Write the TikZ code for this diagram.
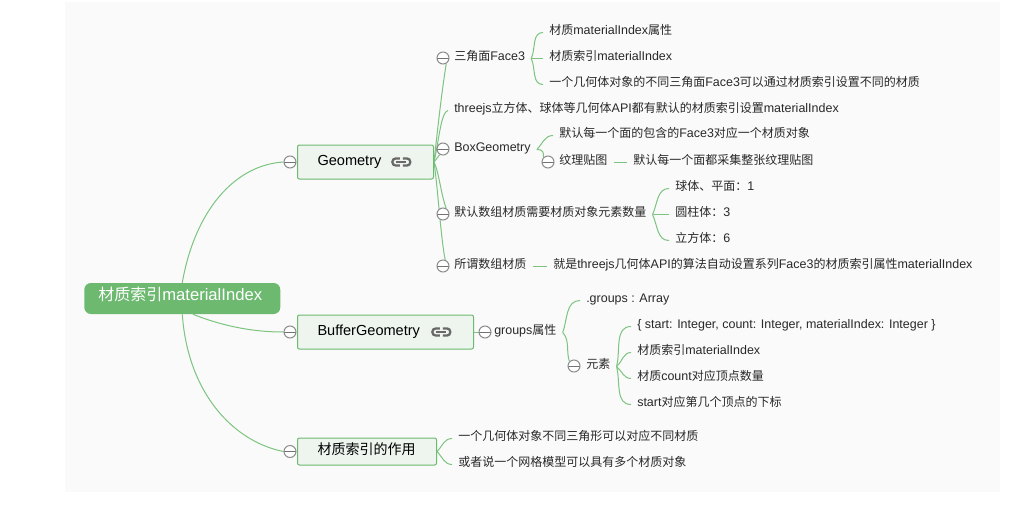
\documentclass[tikz,border=0pt]{standalone}
\usepackage{fontspec}
\usetikzlibrary{backgrounds}
\setmainfont{Noto Sans CJK SC}
\newfontfamily\latfont[Scale=1.04]{Liberation Sans}
\newcommand{\lat}[1]{{\latfont #1}}
\definecolor{mapgreen}{RGB}{108,185,111}
\definecolor{linegreen}{RGB}{124,196,127}
\definecolor{boxfill}{RGB}{237,245,238}
\definecolor{pagegray}{RGB}{250,250,250}
\definecolor{textgray}{RGB}{40,40,40}
\definecolor{icongray}{RGB}{105,105,105}
\tikzset{
  leaf/.style={anchor=west,inner ysep=0pt,inner xsep=4.5pt,text height=3pt,text depth=0pt,font=\fontsize{9pt}{11pt}\selectfont,text=textgray},
  topbox/.style={anchor=west,draw=mapgreen,fill=boxfill,line width=0.75pt,rounded corners=1.5pt,inner ysep=0pt,inner xsep=15pt,minimum height=25.5pt,text height=4.8pt,text depth=0pt,align=left,font=\fontsize{10.5pt}{12pt}\selectfont},
  rootbox/.style={anchor=west,fill=mapgreen,rounded corners=5pt,inner ysep=0pt,inner xsep=10.5pt,minimum height=23.25pt,text height=3.2pt,text depth=0pt,align=left,text=white,font=\fontsize{12pt}{14pt}\selectfont},
  fold/.style={circle,draw=black!45,fill=white,line width=0.75pt,inner sep=0pt,minimum size=9pt,path picture={\draw[black!55,line width=0.6pt] (path picture bounding box.west) -- (path picture bounding box.east);}},
  conn/.style={draw=linegreen,line width=0.75pt},
  linkicon/.pic={
    \draw[icongray,line width=1.7pt,rounded corners=2.6pt] (-1.5,-3.6) -- (-9,-3.6) -- (-9,3.6) -- (-1.5,3.6);
    \draw[icongray,line width=1.7pt,rounded corners=2.6pt] (1.5,-3.6) -- (9,-3.6) -- (9,3.6) -- (1.5,3.6);
    \draw[icongray,line width=1.7pt] (-5,0) -- (5,0);
  }
}
\begin{document}
\begin{tikzpicture}[x=0.75pt,y=0.75pt,yscale=-1,xscale=1]
	\useasboundingbox (0,0) rectangle (1035,518);
	\begin{scope}[on background layer]
	\fill[white] (0,0) rectangle (1035,518);
	\fill[pagegray] (65,2) rectangle (1000,492);
	\end{scope}

	% Root
	\node [rootbox,text width=126pt] (root) at (84,298.5) {材质索引\lat{materialIndex}};

	% Top level
	\node [topbox,text width=72pt] (geo) at (297,162) {\lat{Geometry}};
	\node [fold] (geofold) at (290,162) {};
	\pic at ([xshift=-24.5pt]geo.east) {linkicon};
	\node [topbox,text width=102pt] (buf) at (297,332) {\lat{BufferGeometry}};
	\node [fold] (buffold) at (290,332) {};
	\pic at ([xshift=-24.5pt]buf.east) {linkicon};
	\node [topbox,text width=74.25pt,minimum height=20.25pt] (use) at (297,451.5) {材质索引的作用};
	\node [fold] (usefold) at (290,451.5) {};

	% Geometry children
	\node [leaf] (face) at (448,58.5) {三角面\lat{Face3}};
	\node [fold] (facefold) at (443,58) {};
	\node [leaf] (facea) at (543,32.5) {材质\lat{materialIndex}属性};
	\node [leaf] (faceb) at (543,58.5) {材质索引\lat{materialIndex}};
	\node [leaf] (facec) at (543,84.5) {一个几何体对象的不同三角面\lat{Face3}可以通过材质索引设置不同的材质};
	\node [leaf] (three) at (448,110.5) {\lat{threejs}立方体、球体等几何体\lat{API}都有默认的材质索引设置\lat{materialIndex}};
	\node [leaf] (boxg) at (448,149.5) {\lat{BoxGeometry}};
	\node [fold] (boxfold) at (443,149) {};
	\node [leaf] (boxa) at (553,135.5) {默认每一个面的包含的\lat{Face3}对应一个材质对象};
	\node [leaf] (tex) at (553,162.5) {纹理贴图};
	\node [fold] (texfold) at (548,162) {};
	\node [leaf] (texa) at (627,162.5) {默认每一个面都采集整张纹理贴图};
	\node [leaf] (num) at (448,214.5) {默认数组材质需要材质对象元素数量};
	\node [fold] (numfold) at (443,214) {};
	\node [leaf] (numa) at (669,188.5) {球体、平面：\lat{1}};
	\node [leaf] (numb) at (669,214.5) {圆柱体：\lat{3}};
	\node [leaf] (numc) at (669,240.5) {立方体：\lat{6}};
	\node [leaf] (arr) at (448,266.5) {所谓数组材质};
	\node [fold] (arrfold) at (443,266) {};
	\node [leaf] (arra) at (547,266.5) {就是\lat{threejs}几何体\lat{API}的算法自动设置系列\lat{Face3}的材质索引属性\lat{materialIndex}};

	% BufferGeometry children
	\node [leaf] (grp) at (488,332.5) {\lat{groups}属性};
	\node [fold] (grpfold) at (485,332) {};
	\node [leaf] (grpa) at (580,300.5) {\lat{.groups : Array}};
	\node [leaf] (elem) at (580,366.5) {元素};
	\node [fold] (elemfold) at (574,366) {};
	\node [leaf] (elema) at (631,326.5) {\lat{\{ start: Integer, count: Integer, materialIndex: Integer \}}};
	\node [leaf] (elemb) at (631,352.5) {材质索引\lat{materialIndex}};
	\node [leaf] (elemc) at (631,378.5) {材质\lat{count}对应顶点数量};
	\node [leaf] (elemd) at (631,404.5) {\lat{start}对应第几个顶点的下标};

	% Use children
	\node [leaf] (usea) at (452,438.5) {一个几何体对象不同三角形可以对应不同材质};
	\node [leaf] (useb) at (452,464.5) {或者说一个网格模型可以具有多个材质对象};

	% Connections
	\begin{scope}[on background layer]
	\draw [conn] (root.north) .. controls (195,210) and (235,165) .. (geofold.west);
	\draw [conn] ([xshift=8pt]root.south) .. controls (225,327) and (255,332) .. (buffold.west);
	\draw [conn] (root.south) .. controls (188,395) and (235,442) .. (usefold.west);

	\draw [conn] (geo.east) .. controls (438,125) and (442,90) .. (facefold.-60);
	\draw [conn] (geo.east) .. controls (439,140) and (441,112) .. (three.west);
	\draw [conn] (geo.east) .. controls (437,158) .. (boxfold.-120);
	\draw [conn] (geo.east) .. controls (439,172) and (441,195) .. (numfold.60);
	\draw [conn] (geo.east) .. controls (438,190) and (441,240) .. (arrfold.70);

	\draw [conn] (face.east) to[out=-65,in=180] (facea.west);
	\draw [conn] (face.east) -- (faceb.west);
	\draw [conn] (face.east) to[out=65,in=180] (facec.west);
	\draw [conn] (boxg.east) to[out=-45,in=180] (boxa.west);
	\draw [conn] (boxg.east) .. controls (543,149) and (544,153) .. (texfold.north west);
	\draw [conn] (tex.east) -- (texa.west);
	\draw [conn] (num.east) to[out=-65,in=180] (numa.west);
	\draw [conn] (num.east) -- (numb.west);
	\draw [conn] (num.east) to[out=65,in=180] (numc.west);
	\draw [conn] (arr.east) -- (arra.west);

	\draw [conn] (buf.east) -- (grpfold.west);
	\draw [conn] (grp.east) to[out=-70,in=180] (grpa.west);
	\draw [conn] (grp.east) .. controls (570,340) and (566,352) .. (elemfold.north west);
	\draw [conn] (elem.east) to[out=-75,in=180] (elema.west);
	\draw [conn] (elem.east) to[out=-40,in=180] (elemb.west);
	\draw [conn] (elem.east) to[out=40,in=180] (elemc.west);
	\draw [conn] (elem.east) to[out=75,in=180] (elemd.west);

	\draw [conn] (use.east) to[out=-45,in=180] (usea.west);
	\draw [conn] (use.east) to[out=45,in=180] (useb.west);
	\end{scope}
\end{tikzpicture}
\end{document}
